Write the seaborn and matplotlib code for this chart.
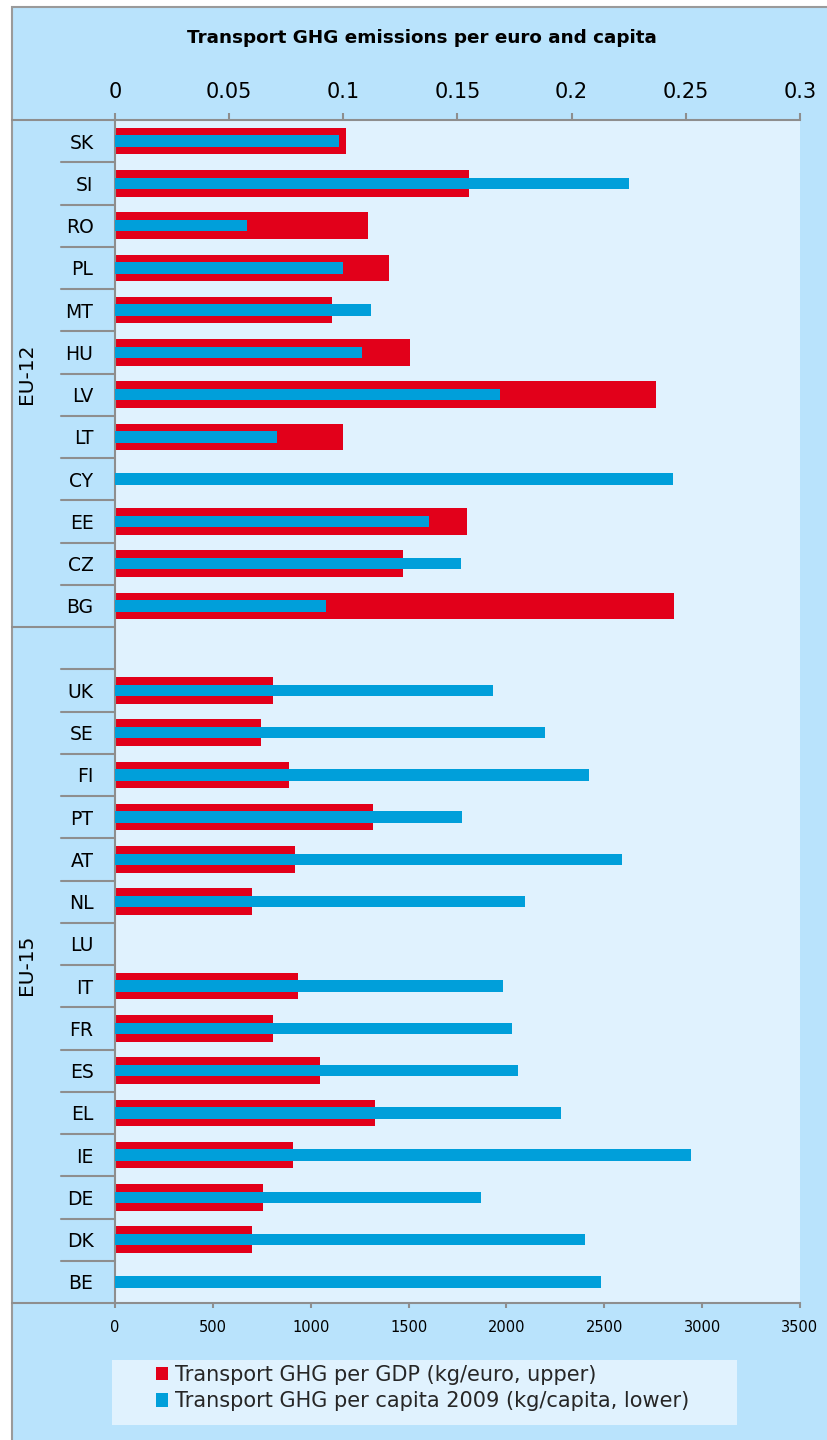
import numpy as np
import pandas as pd
import matplotlib
matplotlib.use("Agg")
import matplotlib.pyplot as plt
import matplotlib.transforms as mtransforms
from matplotlib.patches import Rectangle, Patch
from matplotlib.lines import Line2D
import seaborn as sns

# ---------------- data ----------------
nan = np.nan
eu12_countries = ["SK", "SI", "RO", "PL", "MT", "HU", "LV", "LT", "CY", "EE", "CZ", "BG"]
eu12_per_gdp = [0.101, 0.155, 0.111, 0.120, 0.095, 0.129, 0.237, 0.100, nan, 0.154, 0.126, 0.245]
eu12_per_capita = [1145, 2624, 675, 1164, 1308, 1261, 1967, 828, 2850, 1606, 1766, 1077]

spacer = [" "]
eu15_countries = ["UK", "SE", "FI", "PT", "AT", "NL", "LU", "IT", "FR", "ES", "EL", "IE", "DE", "DK", "BE"]
eu15_per_gdp = [0.069, 0.064, 0.076, 0.113, 0.079, 0.060, nan, 0.080, 0.069, 0.090, 0.114, 0.078, 0.065, 0.060, nan]
eu15_per_capita = [1933, 2195, 2423, 1773, 2590, 2094, nan, 1984, 2026, 2060, 2278, 2945, 1868, 2404, 2482]

groups = ["EU-12", "EU-15"]
top_ticks = [0, 0.05, 0.1, 0.15, 0.2, 0.25, 0.3]
top_tick_labels = ["0", "0.05", "0.1", "0.15", "0.2", "0.25", "0.3"]
bottom_ticks = [0, 500, 1000, 1500, 2000, 2500, 3000, 3500]
bottom_tick_labels = ["0", "500", "1000", "1500", "2000", "2500", "3000", "3500"]

title = "Transport GHG emissions per euro and capita"
label_gdp = "Transport GHG per GDP (kg/euro, upper)"
label_cap = "Transport GHG per capita 2009 (kg/capita, lower)"

order = eu12_countries + spacer + eu15_countries
df = pd.DataFrame({
    "country": order,
    "per_gdp": eu12_per_gdp + [nan] + eu15_per_gdp,
    "per_capita": eu12_per_capita + [nan] + eu15_per_capita,
})

# ---------------- style ----------------
RED = "#E2001A"
BLUE = "#009FDA"
OUTER = "#B9E3FC"
INNER = "#E0F2FE"
GRAY = "#8E8E8E"

sns.set_theme(style="white")
plt.rcParams["font.family"] = ["DejaVu Sans"]

W, H = 828, 1440
fig = plt.figure(figsize=(W / 100, H / 100), dpi=100, facecolor="white")

# outer panel
fig.add_artist(Rectangle((11.7 / W, -0.05), 1.2, 1 - 6.7 / H + 0.05, transform=fig.transFigure,
                         facecolor=OUTER, edgecolor="#9A9A9A", linewidth=1.5, zorder=-5))

left, right, top, bottom = 115 / W, 800 / W, 1 - 120 / H, 1 - 1303 / H
ax = fig.add_axes([left, bottom, right - left, top - bottom])
ax.set_facecolor(INNER)

# red bars: per GDP (top axis)
sns.barplot(data=df, y="country", x="per_gdp", order=order, orient="h", ax=ax,
            color=RED, saturation=1, width=0.625, errorbar=None, linewidth=0)

ax2 = ax.twiny()
sns.barplot(data=df, y="country", x="per_capita", order=order, orient="h", ax=ax2,
            color=BLUE, saturation=1, width=0.27, errorbar=None, linewidth=0)

# axes setup
ax.set_xlim(0, 0.3)
ax2.set_xlim(0, 3500)
ax.set_ylim(len(order) - 0.5, -0.5)

ax.xaxis.tick_top()
ax.xaxis.set_label_position("top")
ax2.xaxis.tick_bottom()
ax2.xaxis.set_label_position("bottom")

ax.set_xticks(top_ticks)
ax.set_xticklabels(top_tick_labels)
ax2.set_xticks(bottom_ticks)
ax2.set_xticklabels(bottom_tick_labels)
ax.set_xlabel("")
ax.set_ylabel("")
ax2.set_xlabel("")
ax2.set_ylabel("")

ax.tick_params(axis="x", which="major", top=True, bottom=False, labeltop=True, labelbottom=False,
               direction="out", length=5, width=1.5, color=GRAY, pad=8, labelsize=15, labelcolor="black")
ax2.tick_params(axis="x", which="major", top=False, bottom=True, labeltop=False, labelbottom=True,
                direction="out", length=3.6, width=1.5, color=GRAY, pad=9, labelsize=10.5, labelcolor="black")
ax.tick_params(axis="y", length=0, pad=15.5, labelsize=13.5, labelcolor="black")

for s in ["right", "bottom"]:
    ax.spines[s].set_visible(False)
for s in ["top", "left"]:
    ax.spines[s].set_color(GRAY)
    ax.spines[s].set_linewidth(1.5)
for s in ["top", "left", "right"]:
    ax2.spines[s].set_visible(False)
ax2.spines["bottom"].set_color(GRAY)
ax2.spines["bottom"].set_linewidth(1.5)

# label-column rules
tr = mtransforms.blended_transform_factory(fig.transFigure, ax.transData)
n = len(order)
n12 = len(eu12_countries)
for i in range(n - 1):
    y = i + 0.5
    if i == n12 - 1:
        x0 = 11.7 / W
    else:
        x0 = 61 / W
    fig.add_artist(Line2D([x0, left], [y, y], transform=tr, color=GRAY, linewidth=1.5, zorder=5))
for y in [-0.5, n - 0.5]:
    fig.add_artist(Line2D([11.7 / W, left], [y, y], transform=tr, color=GRAY, linewidth=1.5, zorder=5))

# group labels
fig.text(27 / W, (n12 - 1) / 2, groups[0], transform=tr, rotation=90, ha="center", va="center",
         fontsize=14.5, color="black")
fig.text(27 / W, (n12 + n - 1) / 2, groups[1], transform=tr, rotation=90, ha="center", va="center",
         fontsize=14.5, color="black")

# title
fig.text(422 / W, 1 - 38 / H, title, ha="center", va="center", fontsize=13.2, fontweight="bold",
         color="black")

# legend
fig.add_artist(Rectangle((112 / W, 1 - 1425 / H), 625 / W, 65 / H, transform=fig.transFigure,
                         facecolor=INNER, edgecolor="none", zorder=1))
handles = [Patch(facecolor=RED, edgecolor="none", label=label_gdp),
           Patch(facecolor=BLUE, edgecolor="none", label=label_cap)]
leg = fig.legend(handles=handles, loc="upper left", bbox_to_anchor=(156 / W, 1 - 1365 / H),
                 frameon=False, fontsize=15, handlelength=0.6, handleheight=0.6,
                 handletextpad=0.3, labelspacing=0.3, borderpad=0, borderaxespad=0)
leg.set_zorder(6)

fig.savefig("out.png", dpi=100, facecolor="white")
